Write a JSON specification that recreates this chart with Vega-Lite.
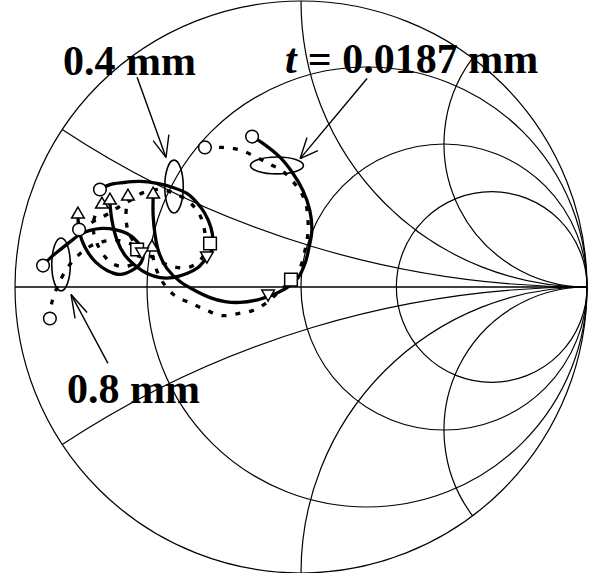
{
  "$schema": "https://vega.github.io/schema/vega-lite/v6.json",
  "width": 572,
  "height": 572,
  "autosize": {"type": "none"},
  "padding": {"left": 15, "top": 1, "right": 10, "bottom": 0},
  "background": "white",
  "config": {"view": {"stroke": null}},
  "resolve": {"scale": {"shape": "independent"}},
  "datasets": {
    "grid": [
      {"cx": 0, "cy": 0, "rho": 1, "t0": 0, "t1": 360},
      {"cx": 0.2308, "cy": 0, "rho": 0.7692, "t0": 0, "t1": 360},
      {"cx": 0.5, "cy": 0, "rho": 0.5, "t0": 0, "t1": 360},
      {"cx": 0.6667, "cy": 0, "rho": 0.3333, "t0": 0, "t1": 360},
      {"cx": 1, "cy": 3.3333, "rho": 3.3333, "t0": 180, "t1": 213.4},
      {"cx": 1, "cy": 1, "rho": 1, "t0": 180, "t1": 270},
      {"cx": 1, "cy": 0.5, "rho": 0.5, "t0": 180, "t1": 306.87},
      {"cx": 1, "cy": -3.3333, "rho": 3.3333, "t0": -33.4, "t1": 0},
      {"cx": 1, "cy": -1, "rho": 1, "t0": -90, "t1": 0},
      {"cx": 1, "cy": -0.5, "rho": 0.5, "t0": -126.87, "t1": 0}
    ],
    "segments": [
      {"u": -1, "v": 0, "u2": 1, "v2": 0},
      {"u": -0.573, "v": 0.733, "u2": -0.472, "v2": 0.453},
      {"u": -0.517, "v": 0.512, "u2": -0.472, "v2": 0.453},
      {"u": -0.462, "v": 0.533, "u2": -0.472, "v2": 0.453},
      {"u": 0.231, "v": 0.729, "u2": -0.003, "v2": 0.449},
      {"u": 0.021, "v": 0.523, "u2": -0.003, "v2": 0.449},
      {"u": 0.059, "v": 0.477, "u2": -0.003, "v2": 0.449},
      {"u": -0.675, "v": -0.267, "u2": -0.804, "v2": -0.026},
      {"u": -0.748, "v": -0.089, "u2": -0.804, "v2": -0.026},
      {"u": -0.790, "v": -0.110, "u2": -0.804, "v2": -0.026}
    ],
    "ellipses": [
      {"o": "h", "u": -0.084, "v": 0.425},
      {"o": "v", "u": -0.444, "v": 0.351},
      {"o": "v", "u": -0.839, "v": 0.079}
    ],
    "solid": [
      {"id": "S1", "i": 0, "u": -0.171, "v": 0.526},
      {"id": "S1", "i": 1, "u": -0.133, "v": 0.502},
      {"id": "S1", "i": 2, "u": -0.073, "v": 0.453},
      {"id": "S1", "i": 3, "u": -0.028, "v": 0.397},
      {"id": "S1", "i": 4, "u": 0.007, "v": 0.337},
      {"id": "S1", "i": 5, "u": 0.031, "v": 0.267},
      {"id": "S1", "i": 6, "u": 0.038, "v": 0.198},
      {"id": "S1", "i": 7, "u": 0.028, "v": 0.138},
      {"id": "S1", "i": 8, "u": 0.014, "v": 0.082},
      {"id": "S1", "i": 9, "u": -0.010, "v": 0.033},
      {"id": "S1", "i": 10, "u": -0.049, "v": -0.002},
      {"id": "S1", "i": 11, "u": -0.080, "v": -0.019},
      {"id": "S1", "i": 12, "u": -0.115, "v": -0.033},
      {"id": "S1", "i": 13, "u": -0.161, "v": -0.047},
      {"id": "S1", "i": 14, "u": -0.213, "v": -0.054},
      {"id": "S1", "i": 15, "u": -0.266, "v": -0.051},
      {"id": "S1", "i": 16, "u": -0.318, "v": -0.037},
      {"id": "S1", "i": 17, "u": -0.371, "v": -0.012},
      {"id": "S1", "i": 18, "u": -0.423, "v": 0.019},
      {"id": "S1", "i": 19, "u": -0.469, "v": 0.065},
      {"id": "S1", "i": 20, "u": -0.497, "v": 0.121},
      {"id": "S1", "i": 21, "u": -0.510, "v": 0.180},
      {"id": "S1", "i": 22, "u": -0.517, "v": 0.250},
      {"id": "S1", "i": 23, "u": -0.517, "v": 0.313},
      {"id": "S2", "i": 0, "u": -0.703, "v": 0.341},
      {"id": "S2", "i": 1, "u": -0.668, "v": 0.358},
      {"id": "S2", "i": 2, "u": -0.622, "v": 0.365},
      {"id": "S2", "i": 3, "u": -0.563, "v": 0.369},
      {"id": "S2", "i": 4, "u": -0.503, "v": 0.362},
      {"id": "S2", "i": 5, "u": -0.448, "v": 0.348},
      {"id": "S2", "i": 6, "u": -0.399, "v": 0.327},
      {"id": "S2", "i": 7, "u": -0.364, "v": 0.295},
      {"id": "S2", "i": 8, "u": -0.336, "v": 0.257},
      {"id": "S2", "i": 9, "u": -0.315, "v": 0.208},
      {"id": "S2", "i": 10, "u": -0.308, "v": 0.163},
      {"id": "S2", "i": 11, "u": -0.315, "v": 0.121},
      {"id": "S2", "i": 12, "u": -0.329, "v": 0.103},
      {"id": "S2", "i": 13, "u": -0.360, "v": 0.068},
      {"id": "S2", "i": 14, "u": -0.399, "v": 0.047},
      {"id": "S2", "i": 15, "u": -0.448, "v": 0.033},
      {"id": "S2", "i": 16, "u": -0.493, "v": 0.033},
      {"id": "S2", "i": 17, "u": -0.538, "v": 0.047},
      {"id": "S2", "i": 18, "u": -0.580, "v": 0.075},
      {"id": "S2", "i": 19, "u": -0.615, "v": 0.110},
      {"id": "S2", "i": 20, "u": -0.643, "v": 0.163},
      {"id": "S2", "i": 21, "u": -0.661, "v": 0.233},
      {"id": "S2", "i": 22, "u": -0.668, "v": 0.292},
      {"id": "S3", "i": 0, "u": -0.902, "v": 0.075},
      {"id": "S3", "i": 1, "u": -0.871, "v": 0.107},
      {"id": "S3", "i": 2, "u": -0.836, "v": 0.135},
      {"id": "S3", "i": 3, "u": -0.801, "v": 0.163},
      {"id": "S3", "i": 4, "u": -0.773, "v": 0.184},
      {"id": "S3", "i": 5, "u": -0.738, "v": 0.198},
      {"id": "S3", "i": 6, "u": -0.696, "v": 0.205},
      {"id": "S3", "i": 7, "u": -0.650, "v": 0.201},
      {"id": "S3", "i": 8, "u": -0.608, "v": 0.187},
      {"id": "S3", "i": 9, "u": -0.573, "v": 0.159},
      {"id": "S3", "i": 10, "u": -0.552, "v": 0.124},
      {"id": "S3", "i": 11, "u": -0.559, "v": 0.086},
      {"id": "S3", "i": 12, "u": -0.591, "v": 0.058},
      {"id": "S3", "i": 13, "u": -0.633, "v": 0.044},
      {"id": "S3", "i": 14, "u": -0.678, "v": 0.058},
      {"id": "S3", "i": 15, "u": -0.717, "v": 0.086},
      {"id": "S3", "i": 16, "u": -0.745, "v": 0.121},
      {"id": "S3", "i": 17, "u": -0.766, "v": 0.163},
      {"id": "S3", "i": 18, "u": -0.776, "v": 0.201},
      {"id": "S3", "i": 19, "u": -0.780, "v": 0.247}
    ],
    "dotted": [
      {"id": "D1", "i": 0, "u": -0.336, "v": 0.488},
      {"id": "D1", "i": 1, "u": -0.276, "v": 0.488},
      {"id": "D1", "i": 2, "u": -0.220, "v": 0.481},
      {"id": "D1", "i": 3, "u": -0.168, "v": 0.460},
      {"id": "D1", "i": 4, "u": -0.115, "v": 0.432},
      {"id": "D1", "i": 5, "u": -0.063, "v": 0.404},
      {"id": "D1", "i": 6, "u": -0.014, "v": 0.351},
      {"id": "D1", "i": 7, "u": 0.014, "v": 0.302},
      {"id": "D1", "i": 8, "u": 0.024, "v": 0.240},
      {"id": "D1", "i": 9, "u": 0.024, "v": 0.187},
      {"id": "D1", "i": 10, "u": 0.014, "v": 0.128},
      {"id": "D1", "i": 11, "u": -0.003, "v": 0.068},
      {"id": "D1", "i": 12, "u": -0.035, "v": 0.023},
      {"id": "D1", "i": 13, "u": -0.073, "v": -0.012},
      {"id": "D1", "i": 14, "u": -0.119, "v": -0.054},
      {"id": "D1", "i": 15, "u": -0.168, "v": -0.082},
      {"id": "D1", "i": 16, "u": -0.220, "v": -0.093},
      {"id": "D1", "i": 17, "u": -0.276, "v": -0.100},
      {"id": "D1", "i": 18, "u": -0.329, "v": -0.082},
      {"id": "D1", "i": 19, "u": -0.381, "v": -0.058},
      {"id": "D1", "i": 20, "u": -0.441, "v": -0.030},
      {"id": "D1", "i": 21, "u": -0.483, "v": 0.016},
      {"id": "D1", "i": 22, "u": -0.507, "v": 0.065},
      {"id": "D1", "i": 23, "u": -0.521, "v": 0.121},
      {"id": "D2", "i": 0, "u": -0.776, "v": 0.201},
      {"id": "D2", "i": 1, "u": -0.731, "v": 0.226},
      {"id": "D2", "i": 2, "u": -0.685, "v": 0.250},
      {"id": "D2", "i": 3, "u": -0.640, "v": 0.278},
      {"id": "D2", "i": 4, "u": -0.598, "v": 0.302},
      {"id": "D2", "i": 5, "u": -0.552, "v": 0.330},
      {"id": "D2", "i": 6, "u": -0.493, "v": 0.341},
      {"id": "D2", "i": 7, "u": -0.441, "v": 0.327},
      {"id": "D2", "i": 8, "u": -0.388, "v": 0.295},
      {"id": "D2", "i": 9, "u": -0.353, "v": 0.250},
      {"id": "D2", "i": 10, "u": -0.336, "v": 0.191},
      {"id": "D2", "i": 11, "u": -0.332, "v": 0.135},
      {"id": "D2", "i": 12, "u": -0.353, "v": 0.093},
      {"id": "D2", "i": 13, "u": -0.395, "v": 0.068},
      {"id": "D2", "i": 14, "u": -0.451, "v": 0.072},
      {"id": "D2", "i": 15, "u": -0.500, "v": 0.093},
      {"id": "D2", "i": 16, "u": -0.545, "v": 0.121},
      {"id": "D2", "i": 17, "u": -0.580, "v": 0.152},
      {"id": "D2", "i": 18, "u": -0.605, "v": 0.198},
      {"id": "D2", "i": 19, "u": -0.612, "v": 0.247},
      {"id": "D2", "i": 20, "u": -0.608, "v": 0.302},
      {"id": "D3", "i": 0, "u": -0.878, "v": -0.110},
      {"id": "D3", "i": 1, "u": -0.871, "v": -0.054},
      {"id": "D3", "i": 2, "u": -0.850, "v": 0.005},
      {"id": "D3", "i": 3, "u": -0.818, "v": 0.065},
      {"id": "D3", "i": 4, "u": -0.783, "v": 0.107},
      {"id": "D3", "i": 5, "u": -0.738, "v": 0.142},
      {"id": "D3", "i": 6, "u": -0.692, "v": 0.159},
      {"id": "D3", "i": 7, "u": -0.643, "v": 0.163},
      {"id": "D3", "i": 8, "u": -0.598, "v": 0.152},
      {"id": "D3", "i": 9, "u": -0.570, "v": 0.128},
      {"id": "D3", "i": 10, "u": -0.573, "v": 0.093},
      {"id": "D3", "i": 11, "u": -0.612, "v": 0.072},
      {"id": "D3", "i": 12, "u": -0.654, "v": 0.079},
      {"id": "D3", "i": 13, "u": -0.689, "v": 0.110},
      {"id": "D3", "i": 14, "u": -0.713, "v": 0.152},
      {"id": "D3", "i": 15, "u": -0.727, "v": 0.205},
      {"id": "D3", "i": 16, "u": -0.720, "v": 0.250},
      {"id": "D3", "i": 17, "u": -0.703, "v": 0.285}
    ],
    "markers": [
      {"m": "circle", "u": -0.902, "v": 0.075},
      {"m": "circle", "u": -0.776, "v": 0.201},
      {"m": "circle", "u": -0.703, "v": 0.341},
      {"m": "circle", "u": -0.336, "v": 0.488},
      {"m": "circle", "u": -0.171, "v": 0.526},
      {"m": "circle", "u": -0.878, "v": -0.110},
      {"m": "up", "u": -0.780, "v": 0.260},
      {"m": "up", "u": -0.696, "v": 0.295},
      {"m": "up", "u": -0.668, "v": 0.309},
      {"m": "up", "u": -0.605, "v": 0.323},
      {"m": "up", "u": -0.517, "v": 0.330},
      {"m": "up", "u": -0.521, "v": 0.145},
      {"m": "square", "u": -0.573, "v": 0.131},
      {"m": "square", "u": -0.318, "v": 0.152},
      {"m": "square", "u": -0.035, "v": 0.026},
      {"m": "down", "u": -0.556, "v": 0.117},
      {"m": "down", "u": -0.329, "v": 0.103},
      {"m": "down", "u": -0.115, "v": -0.030}
    ],
    "labels": [
      {"text": "0.4 mm", "u": -0.832, "v": 0.740},
      {"text": "= 0.0187 mm", "u": 0.024, "v": 0.750},
      {"text": "0.8 mm", "u": -0.818, "v": -0.407}
    ]
  },
  "layer": [
    {
      "data": {"name": "grid"},
      "mark": {"type": "arc", "fill": "transparent", "stroke": "black", "strokeWidth": 1.2},
      "encoding": {
        "x": {"field": "cx", "type": "quantitative", "scale": {"domain": [-1, 1], "nice": false, "zero": false}, "axis": null},
        "y": {"field": "cy", "type": "quantitative", "scale": {"domain": [-1, 1], "nice": false, "zero": false}, "axis": null},
        "radius": {"field": "rho", "type": "quantitative", "scale": {"type": "linear", "domain": [0, 1], "range": [0, 286], "zero": true, "nice": false}},
        "radius2": {"field": "rho"},
        "theta": {"field": "t0", "type": "quantitative", "stack": null, "scale": {"type": "linear", "domain": [0, 360], "range": [0, 6.283185307], "zero": false, "nice": false}},
        "theta2": {"field": "t1"}
      }
    },
    {
      "data": {"name": "segments"},
      "mark": {"type": "rule", "stroke": "black", "strokeWidth": 1.4},
      "encoding": {
        "x": {"field": "u", "type": "quantitative", "scale": {"domain": [-1, 1], "nice": false, "zero": false}, "axis": null},
        "y": {"field": "v", "type": "quantitative", "scale": {"domain": [-1, 1], "nice": false, "zero": false}, "axis": null},
        "x2": {"field": "u2"},
        "y2": {"field": "v2"}
      }
    },
    {
      "data": {"name": "ellipses"},
      "mark": {"type": "point", "filled": false, "stroke": "black", "strokeWidth": 1.6, "size": 2800, "opacity": 1},
      "encoding": {
        "x": {"field": "u", "type": "quantitative", "scale": {"domain": [-1, 1], "nice": false, "zero": false}, "axis": null},
        "y": {"field": "v", "type": "quantitative", "scale": {"domain": [-1, 1], "nice": false, "zero": false}, "axis": null},
        "shape": {"field": "o", "type": "nominal", "legend": null, "scale": {"domain": ["h", "v"], "range": ["M-1,0A1,0.32,0,1,0,1,0A1,0.32,0,1,0,-1,0Z", "M0,-1A0.35,1,0,1,0,0,1A0.35,1,0,1,0,0,-1Z"]}}
      }
    },
    {
      "data": {"name": "solid"},
      "mark": {"type": "line", "stroke": "black", "strokeWidth": 3.3, "interpolate": "catmull-rom", "strokeJoin": "round"},
      "encoding": {
        "x": {"field": "u", "type": "quantitative", "scale": {"domain": [-1, 1], "nice": false, "zero": false}, "axis": null},
        "y": {"field": "v", "type": "quantitative", "scale": {"domain": [-1, 1], "nice": false, "zero": false}, "axis": null},
        "detail": {"field": "id", "type": "nominal"},
        "order": {"field": "i", "type": "quantitative"}
      }
    },
    {
      "data": {"name": "dotted"},
      "mark": {"type": "line", "stroke": "black", "strokeWidth": 3.3, "strokeDash": [5, 9], "interpolate": "catmull-rom"},
      "encoding": {
        "x": {"field": "u", "type": "quantitative", "scale": {"domain": [-1, 1], "nice": false, "zero": false}, "axis": null},
        "y": {"field": "v", "type": "quantitative", "scale": {"domain": [-1, 1], "nice": false, "zero": false}, "axis": null},
        "detail": {"field": "id", "type": "nominal"},
        "order": {"field": "i", "type": "quantitative"}
      }
    },
    {
      "data": {"name": "markers"},
      "mark": {"type": "point", "filled": true, "fill": "white", "stroke": "black", "strokeWidth": 1.5, "size": 160, "opacity": 1},
      "encoding": {
        "x": {"field": "u", "type": "quantitative", "scale": {"domain": [-1, 1], "nice": false, "zero": false}, "axis": null},
        "y": {"field": "v", "type": "quantitative", "scale": {"domain": [-1, 1], "nice": false, "zero": false}, "axis": null},
        "shape": {"field": "m", "type": "nominal", "legend": null, "scale": {"domain": ["circle", "up", "square", "down"], "range": ["circle", "triangle-up", "square", "triangle-down"]}}
      }
    },
    {
      "data": {"name": "labels"},
      "mark": {"type": "text", "font": "Liberation Serif", "fontWeight": "bold", "fontSize": 42, "align": "left", "baseline": "alphabetic", "color": "black"},
      "encoding": {
        "x": {"field": "u", "type": "quantitative", "scale": {"domain": [-1, 1], "nice": false, "zero": false}, "axis": null},
        "y": {"field": "v", "type": "quantitative", "scale": {"domain": [-1, 1], "nice": false, "zero": false}, "axis": null},
        "text": {"field": "text", "type": "nominal"}
      }
    },
    {
      "data": {"values": [{"text": "t", "u": -0.056, "v": 0.750}]},
      "mark": {"type": "text", "font": "Liberation Serif", "fontWeight": "bold", "fontStyle": "italic", "fontSize": 42, "align": "left", "baseline": "alphabetic", "color": "black"},
      "encoding": {
        "x": {"field": "u", "type": "quantitative", "scale": {"domain": [-1, 1], "nice": false, "zero": false}, "axis": null},
        "y": {"field": "v", "type": "quantitative", "scale": {"domain": [-1, 1], "nice": false, "zero": false}, "axis": null},
        "text": {"field": "text", "type": "nominal"}
      }
    }
  ]
}
